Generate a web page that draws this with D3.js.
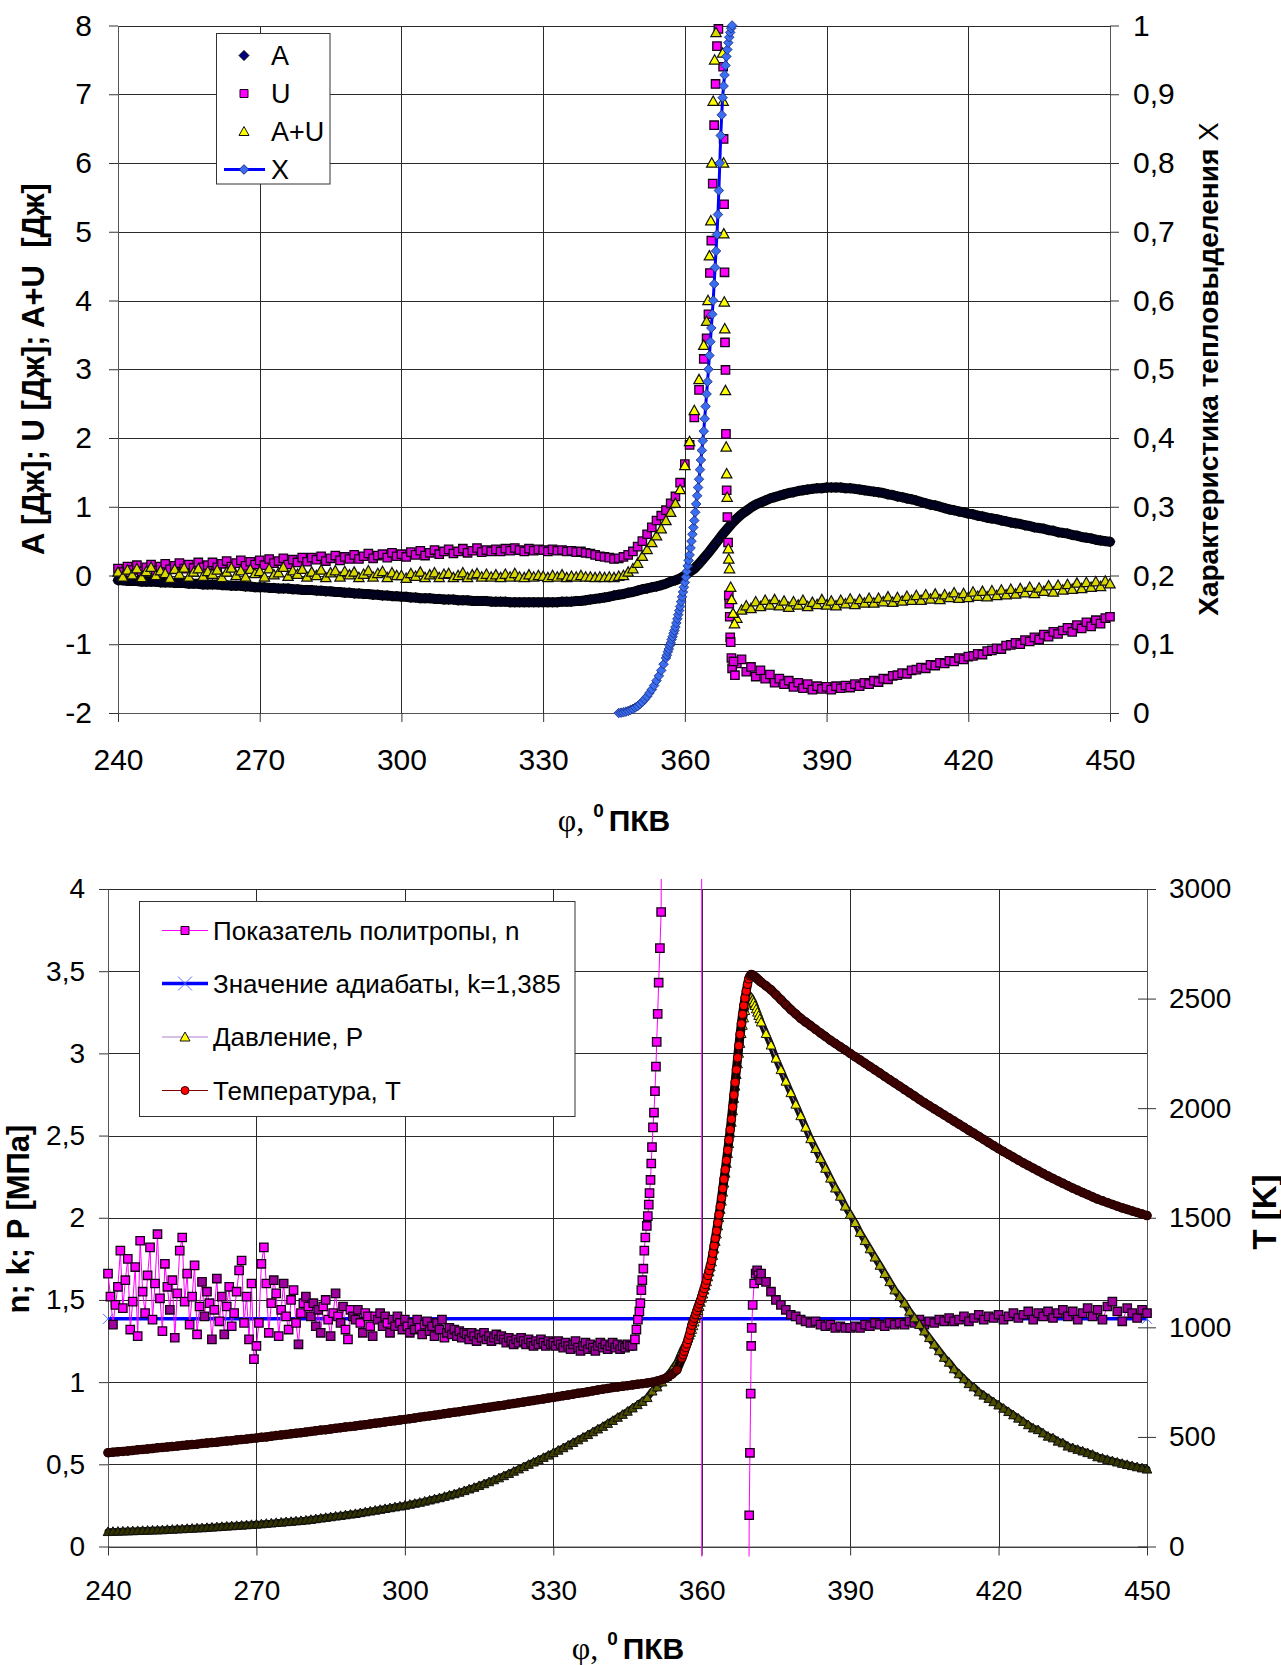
<!DOCTYPE html>
<html><head><meta charset="utf-8">
<script src="https://cdn.jsdelivr.net/npm/d3@7"></script>
<style>
html,body{margin:0;padding:0;background:#fff;}
svg{display:block;}
text{font-family:"Liberation Sans",Arial,sans-serif;fill:#000;}
</style></head><body>
<svg id="chart" width="1281" height="1665"></svg>
<script>
// ================= DATA =================
// crank angle ticks, degrees
const angleTicks = [240, 270, 300, 330, 360, 390, 420, 450];
// upper panel axes
const energyTicks = [-2, -1, 0, 1, 2, 3, 4, 5, 6, 7, 8];
const heatTicks = [0, 0.1, 0.2, 0.3, 0.4, 0.5, 0.6, 0.7, 0.8, 0.9, 1];
// lower panel axes
const indexTicks = [0, 0.5, 1, 1.5, 2, 2.5, 3, 3.5, 4];
const tempTicks = [0, 500, 1000, 1500, 2000, 2500, 3000];

// ---- upper panel: 1-degree grid 240..450 ----
const phiGrid = d3.range(240, 451, 1);
// work A, J
const workA = [
 -0.07,-0.07,-0.08,-0.08,-0.08,-0.09,-0.09,-0.09,-0.09,-0.10,
 -0.10,-0.10,-0.11,-0.11,-0.11,-0.12,-0.12,-0.12,-0.13,-0.13,
 -0.13,-0.13,-0.14,-0.14,-0.15,-0.15,-0.15,-0.16,-0.16,-0.17,
 -0.17,-0.17,-0.18,-0.18,-0.19,-0.19,-0.19,-0.20,-0.20,-0.21,
 -0.21,-0.21,-0.22,-0.22,-0.23,-0.23,-0.24,-0.24,-0.25,-0.25,
 -0.26,-0.26,-0.27,-0.27,-0.28,-0.28,-0.29,-0.29,-0.30,-0.30,
 -0.31,-0.31,-0.32,-0.32,-0.33,-0.33,-0.33,-0.34,-0.34,-0.35,
 -0.35,-0.35,-0.36,-0.36,-0.36,-0.37,-0.37,-0.37,-0.37,-0.38,
 -0.38,-0.38,-0.38,-0.39,-0.39,-0.39,-0.39,-0.39,-0.39,-0.39,
 -0.39,-0.39,-0.39,-0.39,-0.38,-0.38,-0.38,-0.37,-0.37,-0.36,
 -0.35,-0.34,-0.33,-0.32,-0.31,-0.29,-0.28,-0.27,-0.25,-0.24,
 -0.22,-0.20,-0.19,-0.17,-0.16,-0.14,-0.12,-0.09,-0.07,-0.04,
  0.00, 0.05, 0.10, 0.17, 0.25, 0.33, 0.42, 0.51, 0.60, 0.68,
  0.76, 0.83, 0.89, 0.94, 0.99, 1.03, 1.06, 1.09, 1.12, 1.14,
  1.16, 1.18, 1.20, 1.21, 1.23, 1.24, 1.25, 1.26, 1.27, 1.27,
  1.28, 1.28, 1.28, 1.28, 1.27, 1.27, 1.26, 1.25, 1.24, 1.23,
  1.22, 1.21, 1.20, 1.18, 1.17, 1.15, 1.14, 1.12, 1.11, 1.09,
  1.07, 1.05, 1.03, 1.02, 1.00, 0.98, 0.96, 0.95, 0.93, 0.92,
  0.90, 0.89, 0.87, 0.86, 0.84, 0.83, 0.82, 0.80, 0.79, 0.77,
  0.76, 0.75, 0.73, 0.72, 0.70, 0.69, 0.68, 0.66, 0.65, 0.63,
  0.62, 0.61, 0.59, 0.58, 0.56, 0.55, 0.54, 0.52, 0.51, 0.50,
  0.49];
// internal energy U, J (null where the fine set below applies)
const energyU = [
 0.10,0.05,0.13,0.08,0.15,0.06,0.12,0.16,0.07,0.13,
 0.17,0.09,0.14,0.18,0.10,0.16,0.11,0.19,0.12,0.15,
 0.19,0.12,0.17,0.21,0.13,0.18,0.22,0.14,0.20,0.16,
 0.22,0.15,0.24,0.18,0.21,0.25,0.16,0.23,0.19,0.26,
 0.20,0.26,0.23,0.28,0.21,0.25,0.29,0.22,0.27,0.24,
 0.30,0.24,0.28,0.32,0.25,0.29,0.31,0.26,0.33,0.28,
 0.31,0.27,0.34,0.30,0.36,0.29,0.33,0.37,0.31,0.35,
 0.38,0.32,0.35,0.39,0.33,0.36,0.40,0.34,0.37,0.35,
 0.38,0.35,0.39,0.36,0.40,0.37,0.35,0.39,0.36,0.38,
 0.37,0.35,0.38,0.36,0.37,0.35,0.36,0.34,0.35,0.33,
 0.32,0.30,0.28,0.27,0.26,0.24,0.25,0.27,0.30,0.35,
 0.42,0.50,0.60,0.70,0.80,0.87,0.95,1.05,1.15,1.35,
 1.62,1.90,2.30,2.70,3.15,null,null,null,null,null,
 null,-1.28,-1.22,-1.40,-1.33,-1.47,-1.38,-1.50,-1.44,-1.56,
 -1.50,-1.58,-1.53,-1.62,-1.56,-1.64,-1.58,-1.66,-1.61,-1.65,
 -1.62,-1.66,-1.61,-1.64,-1.60,-1.63,-1.58,-1.61,-1.56,-1.58,
 -1.53,-1.55,-1.50,-1.51,-1.46,-1.45,-1.42,-1.43,-1.38,-1.37,
 -1.34,-1.35,-1.30,-1.31,-1.27,-1.28,-1.24,-1.25,-1.20,-1.22,
 -1.18,-1.17,-1.14,-1.15,-1.10,-1.09,-1.06,-1.07,-1.02,-1.01,
 -0.98,-1.00,-0.94,-0.96,-0.90,-0.93,-0.86,-0.89,-0.82,-0.85,
 -0.80,-0.76,-0.82,-0.72,-0.77,-0.68,-0.74,-0.65,-0.70,-0.62,
 -0.60];
// A+U, J
const energySum = [
 0.05,-0.02,0.08,0.01,0.10,-0.03,0.06,0.12,0.00,0.07,
 0.03,-0.04,0.09,0.02,0.11,-0.02,0.05,0.10,-0.01,0.06,
 0.02,0.08,-0.03,0.05,0.11,0.00,0.07,-0.02,0.09,0.03,
 0.06,-0.02,0.10,0.01,0.04,0.12,-0.01,0.07,0.02,0.09,
 -0.02,0.05,0.00,0.08,-0.03,0.04,0.07,-0.02,0.06,0.01,
 0.05,-0.03,0.02,0.07,-0.02,0.03,0.06,-0.03,0.04,0.00,
 0.00,-0.04,0.03,-0.01,0.05,-0.03,0.01,0.04,-0.03,0.02,
 0.03,-0.03,0.00,0.04,-0.03,0.01,0.03,-0.02,0.02,-0.02,
 0.01,-0.03,0.02,-0.02,0.03,-0.02,-0.03,0.01,-0.02,0.00,
 -0.01,-0.03,0.00,-0.02,0.01,-0.03,-0.01,-0.02,0.00,-0.02,
 -0.02,-0.03,-0.02,-0.03,-0.02,-0.03,-0.01,0.00,0.05,0.10,
 0.18,0.28,0.38,0.48,0.58,0.68,0.80,0.92,1.05,1.25,
 1.60,1.95,2.40,2.85,3.35,null,null,null,null,null,
 null,-0.62,-0.50,-0.44,-0.48,-0.38,-0.45,-0.36,-0.43,-0.35,
 -0.44,-0.37,-0.46,-0.38,-0.43,-0.36,-0.45,-0.39,-0.42,-0.35,
 -0.43,-0.37,-0.44,-0.36,-0.41,-0.34,-0.42,-0.35,-0.40,-0.33,
 -0.40,-0.33,-0.38,-0.31,-0.39,-0.32,-0.37,-0.30,-0.36,-0.29,
 -0.36,-0.28,-0.34,-0.27,-0.35,-0.28,-0.32,-0.25,-0.33,-0.26,
 -0.32,-0.24,-0.30,-0.23,-0.31,-0.22,-0.29,-0.21,-0.28,-0.20,
 -0.27,-0.19,-0.25,-0.17,-0.26,-0.18,-0.23,-0.15,-0.24,-0.14,
 -0.21,-0.13,-0.20,-0.11,-0.19,-0.10,-0.17,-0.09,-0.16,-0.08,
 -0.12];
// fine-resolution samples around the combustion burst
const phiBurstU = [364.6,365.0,365.3,365.6,365.9,366.2,366.5,366.8,367.1,
  368.1,368.2,368.3,368.4,368.5,368.6,368.7,368.85,369.0,369.15,369.3,369.4,369.5,369.6,369.7,369.85,370.0,370.3,370.6];
const burstU = [3.45,3.80,4.40,4.87,5.70,6.55,7.15,7.70,7.95,
  7.40,6.35,5.40,4.41,3.39,2.99,2.06,1.24,0.85,0.48,-0.29,-0.41,-0.60,-0.90,-0.97,-1.20,-1.35,-1.25,-1.45];
const phiBurstSum = [364.6,364.9,365.2,365.5,365.7,366.0,366.3,366.6,
  368.0,368.1,368.2,368.25,368.35,368.45,368.6,368.75,368.85,368.95,369.2,369.3,369.45,369.7,369.9,370.2,370.5];
const burstSum = [3.70,4.00,4.65,5.16,6.00,6.90,7.50,7.90,
  7.60,6.90,6.00,4.97,3.98,3.59,2.69,1.87,1.48,1.14,0.39,0.24,0.10,-0.17,-0.35,-0.55,-0.70];
// heat release characteristic X (right axis)
const phiHeat = [...d3.range(346, 356, 0.5), ...d3.range(356, 370.1, 0.2)];
const heatX = [
 0.000,0.0005,0.001,0.002,0.003,0.0045,0.006,0.008,0.010,0.013,
 0.016,0.020,0.024,0.029,0.034,0.040,0.047,0.054,0.062,0.071,
 0.080,0.084,0.089,0.093,0.098, 0.102,0.107,0.111,0.116,0.120,
 0.125,0.131,0.137,0.143,0.149, 0.155,0.162,0.169,0.176,0.183,
 0.190,0.198,0.206,0.214,0.222, 0.230,0.240,0.250,0.260,0.270,
 0.280,0.292,0.304,0.316,0.328, 0.340,0.354,0.368,0.382,0.396,
 0.410,0.428,0.446,0.464,0.482, 0.500,0.520,0.540,0.560,0.580,
 0.600,0.624,0.648,0.672,0.696, 0.725,0.760,0.800,0.840,0.870,
 0.895,0.912,0.928,0.942,0.955, 0.965,0.975,0.983,0.990,0.996,
 1.000];

// ---- lower panel ----
const phiPT = [...d3.range(240, 356, 1), ...d3.range(356, 372, 0.25), ...d3.range(372, 451, 1)];
// pressure P, MPa
const pressure = [
 0.090,0.091,0.092,0.093,0.094,0.095,0.096,0.097,0.098,0.099,
 0.100,0.101,0.103,0.104,0.106,0.107,0.109,0.110,0.112,0.113,
 0.115,0.117,0.119,0.121,0.123,0.125,0.127,0.129,0.131,0.133,
 0.135,0.137,0.140,0.142,0.145,0.147,0.150,0.152,0.155,0.157,
 0.160,0.164,0.168,0.172,0.176,0.180,0.184,0.188,0.192,0.196,
 0.200,0.205,0.210,0.215,0.220,0.225,0.230,0.235,0.240,0.245,
 0.250,0.256,0.262,0.268,0.275,0.282,0.289,0.296,0.304,0.312,
 0.320,0.329,0.339,0.349,0.359,0.370,0.381,0.393,0.405,0.417,
 0.430,0.443,0.457,0.471,0.485,0.499,0.513,0.527,0.541,0.555,
 0.570,0.585,0.600,0.616,0.632,0.648,0.664,0.680,0.697,0.714,
 0.730,0.748,0.766,0.785,0.803,0.822,0.842,0.862,0.882,0.905,
 0.945,0.970,1.000,1.035,1.075,1.120,
 1.190,1.205,1.220,1.235,1.250,1.267,1.285,1.302,1.320,1.342,1.365,1.387,
 1.410,1.435,1.460,1.485,1.510,1.535,1.560,1.585,1.610,1.640,1.670,1.700,
 1.730,1.770,1.810,1.855,1.900,1.950,2.000,2.050,2.100,2.155,2.210,2.270,
 2.330,2.390,2.450,2.515,2.580,2.650,2.725,2.800,2.870,2.935,3.000,3.060,
 3.120,3.170,3.215,3.260,3.300,3.330,3.350,3.350,3.340,3.325,3.310,3.290,
 3.270,3.250,3.230,3.210,
 3.19,3.12,3.05,2.97,2.90,2.83,2.76,2.69,
 2.62,2.55,2.48,2.42,2.36,2.30,2.24,2.18,2.13,2.07,
 2.02,1.97,1.91,1.86,1.81,1.76,1.71,1.66,1.61,1.56,
 1.52,1.48,1.43,1.39,1.35,1.31,1.27,1.23,1.19,1.15,
 1.12,1.08,1.05,1.02,0.99,0.97,0.94,0.92,0.90,0.88,
 0.86,0.84,0.82,0.80,0.78,0.76,0.74,0.72,0.71,0.69,
 0.67,0.66,0.64,0.63,0.61,0.60,0.59,0.58,0.57,0.56,
 0.545,0.537,0.529,0.521,0.513,0.505,0.498,0.491,0.484,0.477,
 0.47];
// temperature T, K
const temperature = [
 428,430,432,434,436,438,441,443,445,447,
 450,452,454,456,458,461,463,465,467,470,
 472,474,476,479,481,483,486,488,490,493,
 495,498,500,503,506,509,511,514,517,519,
 522,525,528,531,533,536,539,542,545,547,
 550,553,556,559,562,565,568,571,574,577,
 580,583,586,590,593,596,599,602,606,609,
 612,615,619,622,625,629,632,635,639,642,
 645,649,652,656,659,663,666,670,673,677,
 680,684,688,691,695,699,702,706,710,714,
 718,721,725,728,731,734,737,740,743,746,
 750,755,762,772,786,806,
 860,875,891,908,925,945,965,987,1010,1026,1042,1058,
 1075,1091,1107,1123,1140,1158,1177,1196,1215,1237,1259,1282,
 1305,1338,1372,1406,1440,1477,1514,1552,1590,1633,1676,1719,
 1762,1808,1855,1902,1950,2005,2060,2118,2175,2230,2285,2337,
 2385,2428,2468,2503,2535,2565,2590,2603,2610,2608,2604,2600,
 2595,2590,2585,2580,
 2575,2558,2540,2518,2495,2472,2450,2430,
 2410,2393,2377,2360,2343,2327,2310,2295,2280,2265,
 2250,2235,2220,2205,2190,2175,2160,2145,2130,2115,
 2100,2085,2070,2055,2040,2025,2011,1997,1983,1969,
 1955,1941,1927,1913,1899,1885,1871,1857,1843,1829,
 1815,1802,1789,1776,1763,1750,1738,1726,1714,1702,
 1690,1679,1668,1657,1646,1635,1625,1615,1605,1595,
 1585,1577,1569,1561,1553,1545,1538,1531,1524,1517,
 1510];
// polytropic exponent n
const phiIndexLow = d3.range(240, 346.5, 0.5);
const indexLow = [
 1.66,1.52,1.35,1.47,1.58,1.80,1.45,1.62,1.75,1.32,1.49,1.70,1.28,1.86,1.55,1.42,1.65,1.82,1.38,1.60,
 1.90,1.51,1.31,1.72,1.58,1.44,1.62,1.27,1.54,1.80,1.88,1.49,1.66,1.35,1.52,1.71,1.29,1.46,1.61,1.40,
 1.55,1.48,1.26,1.44,1.63,1.37,1.52,1.29,1.46,1.58,1.34,1.42,1.55,1.68,1.74,1.36,1.52,1.26,1.60,1.14,
 1.22,1.36,1.72,1.82,1.60,1.30,1.48,1.62,1.54,1.28,1.44,1.60,1.40,1.32,1.50,1.56,1.36,1.23,1.42,1.48,
 1.52,1.46,1.40,1.48,1.34,1.44,1.30,1.46,1.50,1.38,1.28,1.42,1.54,1.40,1.36,1.46,1.32,1.26,1.44,1.40,
 1.38,1.44,1.36,1.30,1.42,1.40,1.34,1.28,1.40,1.38,1.42,1.34,1.40,1.36,1.30,1.38,1.34,1.40,1.36,1.32,
 1.38,1.34,1.30,1.36,1.32,1.38,1.33,1.29,1.35,1.37,1.31,1.34,1.28,1.36,1.32,1.38,1.27,1.30,1.33,1.29,
 1.32,1.28,1.31,1.27,1.30,1.29,1.26,1.30,1.28,1.25,1.29,1.27,1.30,1.26,1.28,1.25,1.27,1.29,1.26,1.28,
 1.26,1.24,1.27,1.25,1.23,1.26,1.24,1.27,1.25,1.23,1.26,1.24,1.22,1.25,1.23,1.26,1.24,1.22,1.25,1.23,
 1.24,1.22,1.25,1.23,1.21,1.24,1.22,1.20,1.23,1.25,1.21,1.19,1.22,1.24,1.20,1.23,1.21,1.19,1.22,1.24,
 1.21,1.23,1.20,1.22,1.24,1.21,1.23,1.20,1.22,1.21,1.23,1.22,
 1.22];
const phiIndexSteep = [346.5,346.8,347.1,347.4,347.6,347.8,348.0,348.2,348.4,348.6,348.9,349.1,349.3,349.45,349.65,
  349.8,349.95,350.15,350.35,350.55,350.75,350.9,351.1,351.3,351.55,351.8,352.0,359.95,360.05,
  369.45,369.6,369.75,369.9,370.0,370.1,370.3,370.6,370.9,371.2,371.5,371.8];
const indexSteep = [1.26,1.32,1.38,1.43,1.48,1.56,1.62,1.69,1.80,1.88,1.95,2.01,2.08,2.15,2.23,
  2.33,2.43,2.55,2.64,2.77,2.92,3.07,3.24,3.43,3.64,3.86,6.0,60,-60,
  -1.0,0.19,0.57,0.93,1.22,1.33,1.47,1.60,1.66,1.68,1.65,1.62];
const phiIndexHigh = d3.range(372, 451, 1);
const indexHigh = [
 1.66,1.61,1.55,1.50,1.47,1.44,1.41,1.40,
 1.38,1.37,1.36,1.37,1.35,1.34,1.35,1.33,1.34,1.33,
 1.33,1.34,1.33,1.35,1.34,1.36,1.35,1.34,1.36,1.35,
 1.36,1.35,1.37,1.36,1.38,1.35,1.37,1.36,1.38,1.37,
 1.39,1.37,1.38,1.40,1.37,1.39,1.41,1.38,1.40,1.39,
 1.41,1.38,1.40,1.42,1.39,1.41,1.43,1.38,1.42,1.40,
 1.43,1.39,1.42,1.44,1.40,1.43,1.38,1.42,1.45,1.40,
 1.44,1.38,1.46,1.49,1.43,1.37,1.45,1.42,1.39,1.44,
 1.42];
// adiabatic exponent k
const phiAdiabat = [240, 450];
const adiabatK = [1.385, 1.385];

// ================= DRAWING =================
const svg = d3.select("#chart");
svg.append("rect").attr("width", 1281).attr("height", 1665).attr("fill", "#fff");
const FONT = '"Liberation Sans", Arial, sans-serif';
const comma = v => String(v).replace(".", ",");
const zip = (xs, ys) => xs.map((x, i) => [x, ys[i]]).filter(d => d[1] !== null && d[1] !== undefined);

const shapes = {
  diamond: r => `M0,${-r}L${r},0L0,${r}L${-r},0Z`,
  square: r => `M${-r},${-r}H${r}V${r}H${-r}Z`,
  triangle: r => `M0,${-r}L${r},${r * 0.8}L${-r},${r * 0.8}Z`,
  circle: r => `M${r},0A${r},${r} 0 1,1 ${-r},0A${r},${r} 0 1,1 ${r},0Z`,
  cross: r => `M${-r},${-r}L${r},${r}M${-r},${r}L${r},${-r}`
};
// Where samples crowd together on screen, the outlined markers pile up and read as a dark
// band; the fill is darkened by how far the curve travels per 0.1 degree.
function crowdFill(pts, xs, ys, color, floor, gain = 0.7) {
  const mix = d3.interpolateRgb("#000", color);
  return pts.map((d, i) => {
    const a = pts[Math.max(0, i - 1)], b = pts[Math.min(pts.length - 1, i + 1)];
    const dpx = Math.hypot(xs(b[0]) - xs(a[0]), ys(b[1]) - ys(a[1]));
    const ddeg = Math.abs(b[0] - a[0]) || 1;
    const travel = dpx / ddeg * 0.1;
    return mix(Math.max(floor, Math.min(1, 0.15 + (travel - 0.45) * gain)));
  });
}
function markers(g, pts, xs, ys, shape, r, fill, stroke, sw) {
  const fills = typeof fill === "string" ? pts.map(() => fill) : fill;
  g.append("g").selectAll("path").data(pts).join("path")
    .attr("transform", d => `translate(${xs(d[0]).toFixed(2)},${ys(d[1]).toFixed(2)})`)
    .attr("d", shapes[shape](r))
    .attr("fill", (d, i) => fills[i]).attr("stroke", stroke).attr("stroke-width", sw);
}
function band(g, pts, xs, ys, width, color) {
  g.append("path").datum(pts)
    .attr("d", d3.line().x(d => xs(d[0])).y(d => ys(d[1])))
    .attr("fill", "none").attr("stroke", color).attr("stroke-width", width)
    .attr("stroke-linejoin", "round").attr("stroke-linecap", "round");
}
function styleAxis(g, size) {
  g.attr("font-family", FONT).attr("font-size", size);
  g.selectAll(".tick line").attr("stroke", "#333");
  g.select(".domain").attr("stroke", "#555");
  g.selectAll(".tick text").attr("fill", "#000");
}
function grid(g, P, xs, ys, yTicks) {
  g.append("g").attr("transform", `translate(${P.left},0)`)
    .call(d3.axisLeft(ys).tickValues(yTicks).tickSize(-(P.right - P.left)).tickFormat(""))
    .call(a => a.select(".domain").remove())
    .call(a => a.selectAll("line").attr("stroke", "#2a2a2a").attr("shape-rendering", "crispEdges"));
  g.append("g").attr("transform", `translate(0,${P.bottom})`)
    .call(d3.axisBottom(xs).tickValues(angleTicks).tickSize(-(P.bottom - P.top)).tickFormat(""))
    .call(a => a.select(".domain").remove())
    .call(a => a.selectAll("line").attr("stroke", "#2a2a2a").attr("shape-rendering", "crispEdges"));
}
function angleTitle(g, cx, y) {
  const t = g.append("text").attr("x", cx).attr("y", y).attr("text-anchor", "middle");
  t.append("tspan").text("φ,").attr("font-family", '"Liberation Serif", "Times New Roman", serif').attr("font-size", 32);
  t.append("tspan").text("0").attr("font-weight", "bold").attr("font-size", 19).attr("dx", 9).attr("dy", -14);
  t.append("tspan").text("ПКВ").attr("font-weight", "bold").attr("font-size", 30).attr("dx", 5).attr("dy", 14);
}

// ---------- upper panel ----------
const P1 = { left: 118, right: 1110, top: 25.5, bottom: 713 };
const x1 = d3.scaleLinear().domain([240, 450]).range([P1.left, P1.right]);
const y1 = d3.scaleLinear().domain([-2, 8]).range([P1.bottom, P1.top]);
const y1r = d3.scaleLinear().domain([0, 1]).range([P1.bottom, P1.top]);
const g1 = svg.append("g");
grid(g1, P1, x1, y1, energyTicks);

g1.append("g").attr("transform", `translate(${P1.left},0)`)
  .call(d3.axisLeft(y1).tickValues(energyTicks).tickSize(9).tickSizeOuter(0).tickPadding(17).tickFormat(comma))
  .call(a => styleAxis(a, 30));
g1.append("g").attr("transform", `translate(0,${P1.bottom})`)
  .call(d3.axisBottom(x1).tickValues(angleTicks).tickSize(9).tickSizeOuter(0).tickPadding(27))
  .call(a => styleAxis(a, 30));
g1.append("g").attr("transform", `translate(${P1.right},0)`)
  .call(d3.axisRight(y1r).tickValues(heatTicks).tickSize(9).tickSizeOuter(0).tickPadding(14).tickFormat(comma))
  .call(a => styleAxis(a, 30));

const clip1 = svg.append("clipPath").attr("id", "clipUpper");
clip1.append("rect").attr("x", P1.left - 10).attr("y", P1.top - 10)
  .attr("width", P1.right - P1.left + 20).attr("height", P1.bottom - P1.top + 20);
const s1 = g1.append("g").attr("clip-path", "url(#clipUpper)");

const ptsA = zip(phiGrid, workA);
const ptsU = zip(phiGrid, energyU).concat(zip(phiBurstU, burstU));
const ptsSum = zip(phiGrid, energySum).concat(zip(phiBurstSum, burstSum));
const ptsX = zip(phiHeat, heatX);

band(s1, ptsA, x1, y1, 10, "#000008");
markers(s1, ptsA, x1, y1, "diamond", 5, crowdFill(ptsA, x1, y1, "#000080", 0.3), "#000", 1);
markers(s1, ptsU, x1, y1, "square", 4.2, crowdFill(ptsU, x1, y1, "#ff00ff", 0.85), "#150015", 1.3);
markers(s1, ptsSum, x1, y1, "triangle", 5.2, crowdFill(ptsSum, x1, y1, "#ffff00", 0.85), "#111", 1.2);
s1.append("path").datum(ptsX)
  .attr("d", d3.line().x(d => x1(d[0])).y(d => y1r(d[1])))
  .attr("fill", "none").attr("stroke", "#0000ff").attr("stroke-width", 3);
markers(s1, ptsX, x1, y1r, "diamond", 4.8, "#3a6df0", "#1a2a7a", 0.8);

// upper titles
g1.append("text").attr("transform", "translate(33,369) rotate(-90)")
  .attr("text-anchor", "middle").attr("dominant-baseline", "central")
  .attr("font-weight", "bold").attr("font-size", 31).style("white-space", "pre")
  .text("A [Дж]; U [Дж]; A+U  [Дж]");
{
  const t = g1.append("text").attr("transform", "translate(1208,369) rotate(-90)")
    .attr("text-anchor", "middle").attr("dominant-baseline", "central").attr("font-size", 28);
  t.append("tspan").attr("font-weight", "bold").text("Характеристика тепловыделения ");
  t.append("tspan").attr("font-weight", "normal").text("X");
}
angleTitle(g1, 614, 831);

// upper legend
{
  const L = g1.append("g");
  L.append("rect").attr("x", 216.5).attr("y", 33.5).attr("width", 113.5).attr("height", 150.5)
    .attr("fill", "#fff").attr("stroke", "#333").attr("stroke-width", 1);
  const rows = [
    { label: "A", shape: "diamond", r: 5, fill: "#000080", stroke: "#000", y: 55.5 },
    { label: "U", shape: "square", r: 4, fill: "#ff00ff", stroke: "#1a001a", y: 93.5 },
    { label: "A+U", shape: "triangle", r: 5, fill: "#ffff00", stroke: "#111", y: 131.5 },
    { label: "X", shape: "diamond", r: 4.8, fill: "#3a6df0", stroke: "#1a2a7a", y: 169.5, line: "#0000ff" }
  ];
  rows.forEach(r => {
    if (r.line) L.append("line").attr("x1", 224).attr("x2", 265).attr("y1", r.y).attr("y2", r.y)
      .attr("stroke", r.line).attr("stroke-width", 3);
    L.append("path").attr("transform", `translate(244,${r.y})`).attr("d", shapes[r.shape](r.r))
      .attr("fill", r.fill).attr("stroke", r.stroke).attr("stroke-width", 1);
    L.append("text").attr("x", 271).attr("y", r.y).attr("dy", "0.36em").attr("font-size", 27).text(r.label);
  });
}

// ---------- lower panel ----------
const P2 = { left: 108, right: 1147, top: 889, bottom: 1546.5 };
const x2 = d3.scaleLinear().domain([240, 450]).range([P2.left, P2.right]);
const y2 = d3.scaleLinear().domain([0, 4]).range([P2.bottom, P2.top]);
const y2r = d3.scaleLinear().domain([0, 3000]).range([P2.bottom, P2.top]);
const g2 = svg.append("g");
grid(g2, P2, x2, y2, indexTicks);

g2.append("g").attr("transform", `translate(${P2.left},0)`)
  .call(d3.axisLeft(y2).tickValues(indexTicks).tickSize(9).tickSizeOuter(0).tickPadding(14).tickFormat(comma))
  .call(a => styleAxis(a, 28));
g2.append("g").attr("transform", `translate(0,${P2.bottom})`)
  .call(d3.axisBottom(x2).tickValues(angleTicks).tickSize(9).tickSizeOuter(0).tickPadding(25))
  .call(a => styleAxis(a, 28));
g2.append("g").attr("transform", `translate(${P2.right},0)`)
  .call(d3.axisRight(y2r).tickValues(tempTicks).tickSize(9).tickSizeOuter(0).tickPadding(13).tickFormat(d3.format("d")))
  .call(a => styleAxis(a, 28))
  .call(a => a.selectAll(".tick line").attr("x1", -9));

const clip2 = svg.append("clipPath").attr("id", "clipLower");
clip2.append("rect").attr("x", P2.left - 10).attr("y", P2.top - 10)
  .attr("width", P2.right - P2.left + 20).attr("height", P2.bottom - P2.top + 20);
const s2 = g2.append("g").attr("clip-path", "url(#clipLower)");

const ptsK = zip(phiAdiabat, adiabatK);
const ptsN = zip(phiIndexLow, indexLow).concat(zip(phiIndexSteep, indexSteep), zip(phiIndexHigh, indexHigh));
const ptsP = zip(phiPT, pressure);
const ptsT = zip(phiPT, temperature);

s2.append("path").datum(ptsK)
  .attr("d", d3.line().x(d => x2(d[0])).y(d => y2(d[1])))
  .attr("stroke", "#0000ff").attr("stroke-width", 3.5).attr("fill", "none");
markers(s2, ptsK, x2, y2, "cross", 5, "none", "#5a6cff", 1);

s2.append("path").datum(ptsN)
  .attr("d", d3.line().x(d => x2(d[0])).y(d => y2(d[1])))
  .attr("stroke", "#ff00ff").attr("stroke-width", 1).attr("fill", "none");
const ptsNShown = ptsN.filter(d => d[1] > -1 && d[1] < 5);
markers(s2, ptsNShown, x2, y2, "square", 4.2, crowdFill(ptsNShown, x2, y2, "#ff00ff", 0.62), "#150015", 1.3);

band(s2, ptsP, x2, y2, 7, "#111");
s2.append("path").datum(ptsP)
  .attr("d", d3.line().x(d => x2(d[0])).y(d => y2(d[1])))
  .attr("stroke", "#b07fd0").attr("stroke-width", 1).attr("fill", "none");
markers(s2, ptsP, x2, y2, "triangle", 4.8, crowdFill(ptsP, x2, y2, "#ffff00", 0.12, 1.0), "#111", 1.0);

band(s2, ptsT, x2, y2r, 9, "#120000");
s2.append("path").datum(ptsT)
  .attr("d", d3.line().x(d => x2(d[0])).y(d => y2r(d[1])))
  .attr("stroke", "#800000").attr("stroke-width", 1).attr("fill", "none");
markers(s2, ptsT, x2, y2r, "circle", 4.2, crowdFill(ptsT, x2, y2r, "#ff0000", 0.18), "#2a0000", 1.1);

// lower titles
g2.append("text").attr("transform", "translate(18,1219) rotate(-90)")
  .attr("text-anchor", "middle").attr("dominant-baseline", "central")
  .attr("font-weight", "bold").attr("font-size", 31).text("n; k; P [МПа]");
g2.append("text").attr("transform", "translate(1264,1212) rotate(-90)")
  .attr("text-anchor", "middle").attr("dominant-baseline", "central")
  .attr("font-weight", "bold").attr("font-size", 33).text("T [K]");
angleTitle(g2, 628, 1659);

// lower legend
{
  const L = g2.append("g");
  L.append("rect").attr("x", 139.5).attr("y", 901.5).attr("width", 435.5).attr("height", 215)
    .attr("fill", "#fff").attr("stroke", "#333").attr("stroke-width", 1);
  const rows = [
    { label: "Показатель политропы, n", shape: "square", r: 4, fill: "#ff00ff", stroke: "#1a001a", line: "#ff00ff", lw: 1, y: 930.5 },
    { label: "Значение адиабаты, k=1,385", shape: "cross", r: 7, fill: "none", stroke: "#5a6cff", line: "#0000ff", lw: 3.5, y: 983.5 },
    { label: "Давление, P", shape: "triangle", r: 5, fill: "#ffff00", stroke: "#111", line: "#b07fd0", lw: 1, y: 1037 },
    { label: "Температура, T", shape: "circle", r: 4, fill: "#ff0000", stroke: "#3a0000", line: "#800000", lw: 1, y: 1090.5 }
  ];
  rows.forEach(r => {
    L.append("line").attr("x1", 162).attr("x2", 208).attr("y1", r.y).attr("y2", r.y)
      .attr("stroke", r.line).attr("stroke-width", r.lw);
    L.append("path").attr("transform", `translate(185,${r.y})`).attr("d", shapes[r.shape](r.r))
      .attr("fill", r.fill).attr("stroke", r.stroke).attr("stroke-width", 1);
    L.append("text").attr("x", 213).attr("y", r.y).attr("dy", "0.36em").attr("font-size", 26).text(r.label);
  });
}
</script>
</body></html>
